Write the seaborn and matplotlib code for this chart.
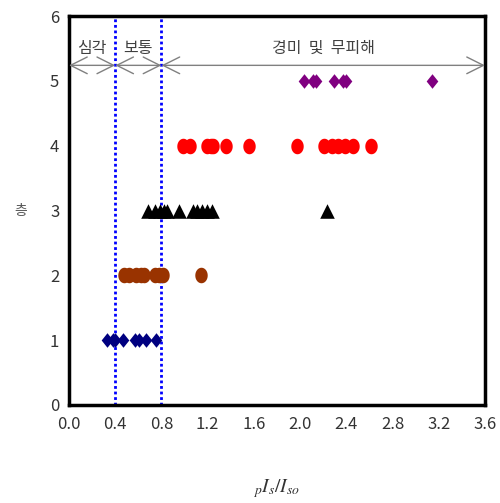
import numpy as np
import pandas as pd
import matplotlib
matplotlib.use('Agg')
import matplotlib.pyplot as plt
from matplotlib.path import Path
import seaborn as sns

# values (x = pIs/Iso, y = storey)
floor1_x = [0.33, 0.38, 0.40, 0.47, 0.57, 0.61, 0.67, 0.75]
floor2_x = [0.48, 0.52, 0.58, 0.62, 0.65, 0.74, 0.78, 0.81, 1.14]
floor3_x = [0.68, 0.74, 0.79, 0.82, 0.85, 0.95, 1.07, 1.11, 1.15, 1.19, 1.24, 2.23]
floor4_x = [0.99, 1.05, 1.19, 1.23, 1.25, 1.36, 1.56, 1.97, 2.21, 2.28, 2.33, 2.39, 2.46, 2.61]
floor5_x = [2.03, 2.11, 2.14, 2.29, 2.37, 2.40, 3.14]

floors = [1, 2, 3, 4, 5]
floor_colors = ['#000080', '#993300', '#000000', '#FF0000', '#800080']

# damage class limits
limits = [0.0, 0.4, 0.8, 3.6]
zone_labels = ['심각', '보통', '경미  및  무피해']

xticks = [0.0, 0.4, 0.8, 1.2, 1.6, 2.0, 2.4, 2.8, 3.2, 3.6]
yticks = [0, 1, 2, 3, 4, 5, 6]

# slightly tall ellipse / diamond markers like the original
t = np.linspace(0, 2 * np.pi, 40)
ellipse = Path(np.column_stack([0.8 * np.cos(t), np.sin(t)]), closed=True)
diamond = Path([(0, 1), (0.8, 0), (0, -1), (-0.8, 0), (0, 1)], closed=True)
floor_markers = [diamond, ellipse, '^', ellipse, diamond]
floor_sizes = [110, 125, 110, 125, 110]

rows = []
for f, xs in zip(floors, [floor1_x, floor2_x, floor3_x, floor4_x, floor5_x]):
	for x in xs:
		rows.append({'x': x, 'floor': f})
df = pd.DataFrame(rows)

sns.set_style('white')
plt.rcParams['font.family'] = ['Noto Sans CJK KR', 'DejaVu Sans']
plt.rcParams['mathtext.fontset'] = 'stix'

fig = plt.figure(figsize=(5, 5.03), dpi=100)
ax = fig.add_axes([0.138, 0.195, 0.832, 0.773])

for f, c, m, s in zip(floors, floor_colors, floor_markers, floor_sizes):
	sub = df[df.floor == f]
	sns.scatterplot(data=sub, x='x', y='floor', color=c, marker=m, s=s,
			linewidth=0, ax=ax, legend=False, zorder=3)

# boundary lines
for v in limits[1:-1]:
	ax.axvline(v, color='#0000FF', linestyle=(0, (1, 1)), linewidth=2, zorder=2)

# zone arrows and labels
for i in range(len(zone_labels)):
	a, b = limits[i], limits[i + 1]
	ax.annotate('', xy=(a, 5.24), xytext=(b, 5.24),
		    arrowprops=dict(arrowstyle='<->,head_length=0.8,head_width=0.4',
				    mutation_scale=15, color='#808080', lw=1,
				    shrinkA=0, shrinkB=0))
	ax.text((a + b) / 2, 5.5, zone_labels[i], ha='center', va='center',
		fontsize=11.5, color='#404040')

ax.set_xlim(0, 3.6)
ax.set_ylim(0, 6)
ax.set_xticks(xticks)
ax.set_xticklabels(['%.1f' % t for t in xticks])
ax.set_yticks(yticks)
ax.tick_params(direction='in', length=4, width=1, labelsize=12,
	       labelcolor='#333333', pad=8)
ax.tick_params(axis='y', pad=7)
for sp in ax.spines.values():
	sp.set_linewidth(2.5)
	sp.set_color('black')

ax.set_xlabel(r'$_{p}I_{s}/I_{so}$', fontsize=14, color='#333333', va='center')
ax.xaxis.set_label_coords(0.5, -0.214)
ax.set_ylabel('층', fontsize=10, color='#555555', rotation=0,
	      ha='center', va='center')
ax.yaxis.set_label_coords(-0.115, 0.5)

fig.savefig('out.png', dpi=100)
